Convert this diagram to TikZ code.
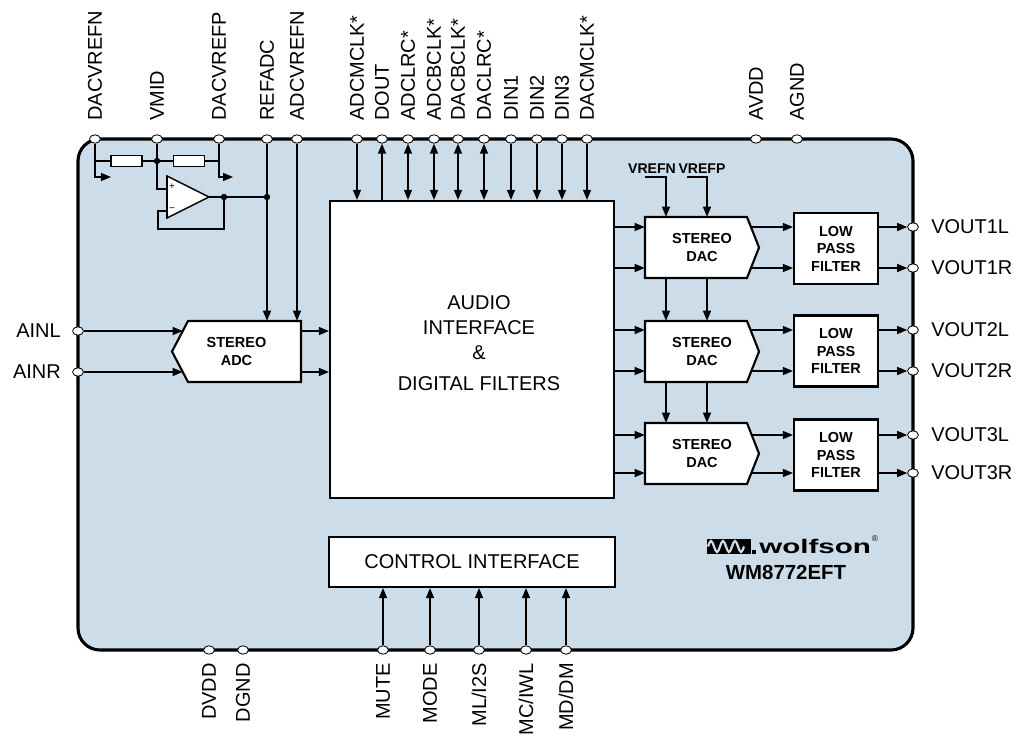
\documentclass[tikz,border=0pt]{standalone}
\usepackage{fontspec}
\setmainfont{Liberation Sans}
\usepackage{graphicx}
\usetikzlibrary{arrows.meta, shapes.geometric}

\definecolor{chipblue}{RGB}{204,221,233}

\tikzstyle{chippin} = [draw, fill=white, ellipse, minimum width=0.27cm, minimum height=0.21cm, inner sep=0pt, line width=0.6pt]
\tikzstyle{toplabel} = [rotate=90, anchor=west, inner sep=0pt, text depth=0pt]
\tikzstyle{botlabel} = [rotate=90, anchor=east, inner sep=0pt, text depth=0pt]
\tikzstyle{block} = [draw, fill=white, line width=1.5pt, inner sep=0pt]
\tikzstyle{smallbold} = [font=\fontsize{10.3}{12.4}\selectfont\bfseries, align=center, inner sep=0pt]
\tikzstyle{resistor} = [draw, fill=white, line width=1.1pt, minimum width=0.775cm, minimum height=0.275cm, inner sep=0pt]
\tikzstyle{junction} = [fill, circle, inner sep=0pt, minimum size=0.16cm]
\tikzstyle{wire} = [line width=0.9pt]
\tikzstyle{sig} = [-{Triangle[length=2.5mm, width=2mm]}, line width=0.9pt]
\tikzstyle{bisig} = [{Triangle[length=2.5mm, width=2mm]}-{Triangle[length=2.5mm, width=2mm]}, line width=0.9pt]

% outline of a stereo DAC, centre x, centre y
\newcommand{\dacoutline}[2]{\draw[block] (#1-57,#2-30.5) -- (#1+45,#2-30.5) -- (#1+57,#2) -- (#1+45,#2+30.5) -- (#1-57,#2+30.5) -- cycle;}

\begin{document}
\begin{tikzpicture}[x=0.025cm, y=-0.025cm, font=\fontsize{14.2}{17.8}\selectfont]
  \useasboundingbox (0,0) rectangle (1019,738);

  % chip body
  \draw[fill=chipblue, line width=2.2pt, rounded corners=0.55cm] (78,139) rectangle (913,650);

  % top pins
  \node[chippin] (dacvrefn) at (95,139) {};
  \node[chippin] (vmid) at (157,139) {};
  \node[chippin] (dacvrefp) at (219,139) {};
  \node[chippin] (refadc) at (267,139) {};
  \node[chippin] (adcvrefn) at (297,139) {};
  \node[chippin] (adcmclk) at (357,139) {};
  \node[chippin] (dout) at (382,139) {};
  \node[chippin] (adclrc) at (408,139) {};
  \node[chippin] (adcbclk) at (434,139) {};
  \node[chippin] (dacbclk) at (458,139) {};
  \node[chippin] (daclrc) at (484,139) {};
  \node[chippin] (din1) at (511,139) {};
  \node[chippin] (din2) at (537,139) {};
  \node[chippin] (din3) at (562,139) {};
  \node[chippin] (dacmclk) at (587,139) {};
  \node[chippin] (avdd) at (756,139) {};
  \node[chippin] (agnd) at (797,139) {};

  \node[toplabel] (ldacvrefn) at (95,121) {DACVREFN};
  \node[toplabel] (lvmid) at (157,121) {VMID};
  \node[toplabel] (ldacvrefp) at (219,121) {DACVREFP};
  \node[toplabel] (lrefadc) at (267,121) {REFADC};
  \node[toplabel] (ladcvrefn) at (297,121) {ADCVREFN};
  \node[toplabel] (ladcmclk) at (357,121) {ADCMCLK*};
  \node[toplabel] (ldout) at (382,121) {DOUT};
  \node[toplabel] (ladclrc) at (408,121) {ADCLRC*};
  \node[toplabel] (ladcbclk) at (434,121) {ADCBCLK*};
  \node[toplabel] (ldacbclk) at (458,121) {DACBCLK*};
  \node[toplabel] (ldaclrc) at (484,121) {DACLRC*};
  \node[toplabel] (ldin1) at (511,121) {DIN1};
  \node[toplabel] (ldin2) at (537,121) {DIN2};
  \node[toplabel] (ldin3) at (562,121) {DIN3};
  \node[toplabel] (ldacmclk) at (587,121) {DACMCLK*};
  \node[toplabel] (lavdd) at (756,121) {AVDD};
  \node[toplabel] (lagnd) at (797,121) {AGND};

  % bottom pins
  \node[chippin] (dvdd) at (209,650) {};
  \node[chippin] (dgnd) at (243,650) {};
  \node[chippin] (mute) at (383,650) {};
  \node[chippin] (mode) at (430,650) {};
  \node[chippin] (mli2s) at (479,650) {};
  \node[chippin] (mciwl) at (526,650) {};
  \node[chippin] (mddm) at (566,650) {};

  \node[botlabel] (ldvdd) at (209,663) {DVDD};
  \node[botlabel] (ldgnd) at (243,663) {DGND};
  \node[botlabel] (lmute) at (383,663) {MUTE};
  \node[botlabel] (lmode) at (430,663) {MODE};
  \node[botlabel] (lmli2s) at (479,663) {ML/I2S};
  \node[botlabel] (lmciwl) at (526,663) {MC/IWL};
  \node[botlabel] (lmddm) at (566,663) {MD/DM};

  % side pins
  \node[chippin] (ainl) at (78,331) {};
  \node[chippin] (ainr) at (78,372) {};
  \node[anchor=east, inner sep=0pt] (lainl) at (61,331) {AINL};
  \node[anchor=east, inner sep=0pt] (lainr) at (61,372) {AINR};

  \node[chippin] (vout1l) at (913,227) {};
  \node[chippin] (vout1r) at (913,268) {};
  \node[chippin] (vout2l) at (913,330) {};
  \node[chippin] (vout2r) at (913,371) {};
  \node[chippin] (vout3l) at (913,435) {};
  \node[chippin] (vout3r) at (913,473) {};
  \node[anchor=west, inner sep=0pt] (lvout1l) at (931,227) {VOUT1L};
  \node[anchor=west, inner sep=0pt] (lvout1r) at (931,268) {VOUT1R};
  \node[anchor=west, inner sep=0pt] (lvout2l) at (931,330) {VOUT2L};
  \node[anchor=west, inner sep=0pt] (lvout2r) at (931,371) {VOUT2R};
  \node[anchor=west, inner sep=0pt] (lvout3l) at (931,435) {VOUT3L};
  \node[anchor=west, inner sep=0pt] (lvout3r) at (931,473) {VOUT3R};

  % reference divider and buffer
  \node[resistor] (r1) at (126.5,161) {};
  \node[resistor] (r2) at (189,161) {};
  \coordinate (nvref) at (111,177);
  \coordinate (pvref) at (233,177);
  \coordinate (opplus) at (167,189);
  \coordinate (opminus) at (167,211);
  \coordinate (opout) at (209,197);
  \draw[fill=white, line width=1.1pt] (167,176) -- (opout) -- (167,218) -- cycle;
  \node[font=\fontsize{7}{8}\selectfont, inner sep=0pt] (opp) at (172,187) {+};
  \node[font=\fontsize{7}{8}\selectfont, inner sep=0pt] (opm) at (172,210) {−};
  \node[junction] (jvmid) at (157,161) {};
  \node[junction] (jout) at (224,197) {};
  \node[junction] (jref) at (267,197) {};

  \draw[wire] (dacvrefn) |- (r1);
  \draw[wire] (r1) -- (r2);
  \draw[wire] (r2) -| (dacvrefp);
  \draw[sig] (dacvrefn) |- (nvref);
  \draw[sig] (dacvrefp) |- (pvref);
  \draw[wire] (vmid) |- (opplus);
  \draw[wire] (opout) -- (jref);
  \draw[wire] (jout) |- ++(-66,32) |- (opminus);

  % blocks
  \draw[block] (188,321) -- (301,321) -- (301,382) -- (188,382) -- (172,351.5) -- cycle;
  \node[smallbold, minimum width=3.225cm, minimum height=1.525cm] (adc) at (236.5,351.5) {STEREO\\ADC};

  \node[block, minimum width=7.1cm, minimum height=7.425cm] (audio) at (472,349.5) {};
  \node[align=center] (audiotext) at (479,343) {AUDIO\\INTERFACE\\\&\\[0.15cm]DIGITAL FILTERS};
  \node[block, minimum width=7.15cm, minimum height=1.25cm] (ctrl) at (472,562) {CONTROL INTERFACE};

  \dacoutline{702}{247.5}
  \dacoutline{702}{351.5}
  \dacoutline{702}{453.5}
  \node[smallbold, minimum width=2.85cm, minimum height=1.525cm] (dac1) at (702,247.5) {STEREO\\DAC};
  \node[smallbold, minimum width=2.85cm, minimum height=1.525cm] (dac2) at (702,351.5) {STEREO\\DAC};
  \node[smallbold, minimum width=2.85cm, minimum height=1.525cm] (dac3) at (702,453.5) {STEREO\\DAC};

  \node[block, smallbold, minimum width=2.1cm, minimum height=1.775cm] (lpf1) at (836,248.5) {LOW\\PASS\\FILTER};
  \node[block, smallbold, minimum width=2.1cm, minimum height=1.775cm] (lpf2) at (836,351) {LOW\\PASS\\FILTER};
  \node[block, smallbold, minimum width=2.1cm, minimum height=1.775cm] (lpf3) at (836,455) {LOW\\PASS\\FILTER};

  \node[font=\fontsize{10}{12}\selectfont\bfseries, inner sep=0pt] (vrefn) at (652,169) {VREFN};
  \node[font=\fontsize{10}{12}\selectfont\bfseries, inner sep=0pt] (vrefp) at (702,169) {VREFP};
  \coordinate (vrefnstart) at (645,177);
  \coordinate (vrefncol) at (666,177);
  \coordinate (vrefpstart) at (687,177);
  \coordinate (vrefpcol) at (707,177);

  % analogue inputs
  \draw[sig, shorten >=-0.275cm] (ainl) -- (adc.west |- ainl);
  \draw[sig, shorten >=-0.275cm] (ainr) -- (adc.west |- ainr);
  \draw[sig] (adc.east |- ainl) -- (audio.west |- ainl);
  \draw[sig] (adc.east |- ainr) -- (audio.west |- ainr);
  \draw[sig] (refadc) -- (refadc |- adc.north);
  \draw[sig] (adcvrefn) -- (adcvrefn |- adc.north);

  % digital audio pins
  \draw[sig] (adcmclk) -- (adcmclk |- audio.north);
  \draw[sig] (dout |- audio.north) -- (dout);
  \draw[bisig] (adclrc) -- (adclrc |- audio.north);
  \draw[bisig] (adcbclk) -- (adcbclk |- audio.north);
  \draw[bisig] (dacbclk) -- (dacbclk |- audio.north);
  \draw[bisig] (daclrc) -- (daclrc |- audio.north);
  \draw[sig] (din1) -- (din1 |- audio.north);
  \draw[sig] (din2) -- (din2 |- audio.north);
  \draw[sig] (din3) -- (din3 |- audio.north);
  \draw[sig] (dacmclk) -- (dacmclk |- audio.north);

  % control pins
  \draw[sig] (mute) -- (mute |- ctrl.south);
  \draw[sig] (mode) -- (mode |- ctrl.south);
  \draw[sig] (mli2s) -- (mli2s |- ctrl.south);
  \draw[sig] (mciwl) -- (mciwl |- ctrl.south);
  \draw[sig] (mddm) -- (mddm |- ctrl.south);

  % DAC references
  \draw[sig] (vrefnstart) -| (vrefncol |- dac1.north);
  \draw[sig] (vrefpstart) -| (vrefpcol |- dac1.north);
  \draw[sig] (vrefncol |- dac1.south) -- (vrefncol |- dac2.north);
  \draw[sig] (vrefpcol |- dac1.south) -- (vrefpcol |- dac2.north);
  \draw[sig] (vrefncol |- dac2.south) -- (vrefncol |- dac3.north);
  \draw[sig] (vrefpcol |- dac2.south) -- (vrefpcol |- dac3.north);

  % DAC paths
  \draw[sig] (audio.east |- vout1l) -- (dac1.west |- vout1l);
  \draw[sig] (audio.east |- vout1r) -- (dac1.west |- vout1r);
  \draw[sig] (audio.east |- vout2l) -- (dac2.west |- vout2l);
  \draw[sig] (audio.east |- vout2r) -- (dac2.west |- vout2r);
  \draw[sig] (audio.east |- vout3l) -- (dac3.west |- vout3l);
  \draw[sig] (audio.east |- vout3r) -- (dac3.west |- vout3r);
  \draw[sig, shorten <=-0.2cm] (dac1.east |- vout1l) -- (lpf1.west |- vout1l);
  \draw[sig, shorten <=-0.2cm] (dac1.east |- vout1r) -- (lpf1.west |- vout1r);
  \draw[sig, shorten <=-0.2cm] (dac2.east |- vout2l) -- (lpf2.west |- vout2l);
  \draw[sig, shorten <=-0.2cm] (dac2.east |- vout2r) -- (lpf2.west |- vout2r);
  \draw[sig, shorten <=-0.2cm] (dac3.east |- vout3l) -- (lpf3.west |- vout3l);
  \draw[sig, shorten <=-0.2cm] (dac3.east |- vout3r) -- (lpf3.west |- vout3r);
  \draw[sig] (lpf1.east |- vout1l) -- (vout1l);
  \draw[sig] (lpf1.east |- vout1r) -- (vout1r);
  \draw[sig] (lpf2.east |- vout2l) -- (vout2l);
  \draw[sig] (lpf2.east |- vout2r) -- (vout2r);
  \draw[sig] (lpf3.east |- vout3l) -- (vout3l);
  \draw[sig] (lpf3.east |- vout3r) -- (vout3r);

  % logo
  \fill (707,539) rectangle (751,554);
  \draw[chipblue, line width=1.6pt] (708,546.5) sin (711,541) cos (714,546.5) sin (717,552) cos (720,546.5) sin (723,541) cos (726,546.5) sin (729,552) cos (732,546.5) sin (735,541) cos (738,546.5) sin (741,552) cos (744,546.5);
  \fill (752,550) rectangle (756,554);
  \node[anchor=west, inner sep=0pt, font=\fontsize{14}{16}\selectfont\bfseries] (wolfson) at (759,546) {\scalebox{1.5}[1]{wolfson}};
  \node[inner sep=0pt, font=\fontsize{6}{6}\selectfont] (regmark) at (875,539) {®};
  \node[font=\fontsize{14.5}{17}\selectfont\bfseries, inner sep=0pt] (partno) at (786,572) {WM8772EFT};
\end{tikzpicture}
\end{document}
